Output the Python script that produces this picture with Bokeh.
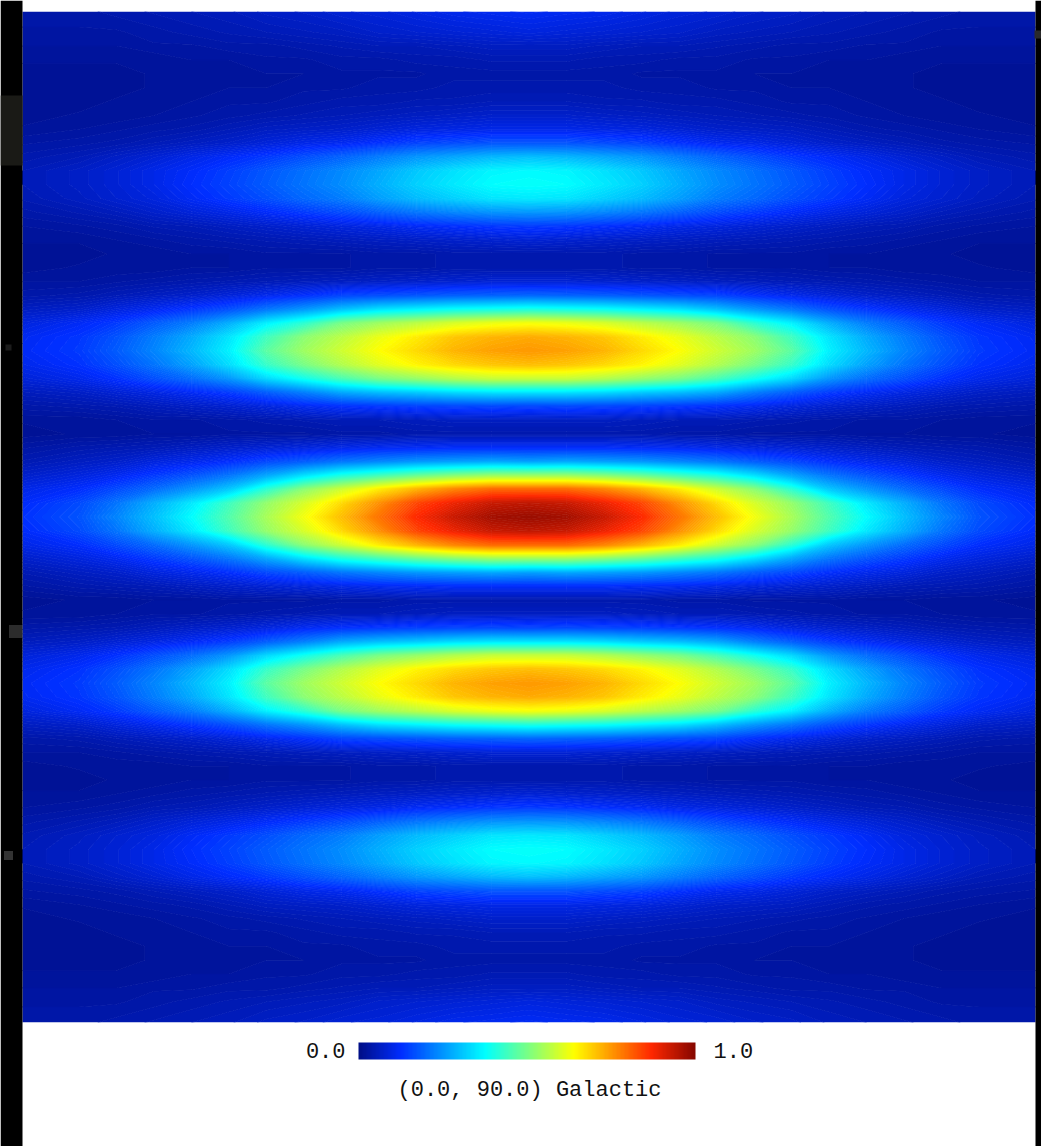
from bokeh.plotting import figure
from bokeh.models import LinearColorMapper, Range1d
from bokeh.core.properties import value
from bokeh.embed import file_html
from bokeh.resources import INLINE
import numpy as np

# Values: one quadrant, rows going outward from the centre row,
# columns going outward from the centre column.
col_offsets = [0, 37.5, 75, 112.5, 150, 187.5, 225, 262.5, 300, 337.5, 375, 412.5, 450, 506.5]
row_offsets = [0, 13.85, 27.7, 41.5, 55.4, 69.2, 83, 96.9, 110.8, 124.6, 138.5, 152.3, 166.2,
               180, 193.9, 207.7, 221.6, 235.4, 249.3, 263.1, 277, 290.8, 304.7, 318.5, 332.4,
               346.2, 360, 373.9, 387.8, 401.6, 415.5, 429.3, 443.2, 457, 470.9, 484.7, 505.5]
quadrant = [
 [.98,.97,.93,.87,.79,.71,.63,.55,.46,.375,.30,.23,.17,.13],
 [.94,.93,.89,.84,.76,.68,.60,.53,.44,.35,.28,.21,.16,.12],
 [.80,.80,.77,.72,.66,.59,.52,.42,.31,.25,.20,.16,.125,.10],
 [.53,.53,.51,.48,.44,.40,.34,.27,.21,.17,.14,.11,.09,.07],
 [.26,.27,.26,.25,.23,.21,.18,.155,.125,.105,.09,.07,.06,.045],
 [.12,.12,.12,.115,.11,.10,.09,.08,.07,.06,.05,.045,.04,.03],
 [.04,.04,.04,.04,.035,.035,.03,.03,.03,.025,.025,.02,.02,.015],
 [.06,.06,.06,.055,.05,.05,.045,.04,.035,.03,.03,.025,.02,.02],
 [.15,.155,.15,.145,.135,.125,.11,.09,.075,.065,.055,.045,.04,.035],
 [.34,.34,.33,.31,.295,.27,.22,.18,.14,.115,.095,.08,.065,.055],
 [.58,.58,.56,.53,.50,.45,.39,.33,.25,.20,.165,.13,.105,.085],
 [.71,.70,.68,.65,.61,.56,.50,.43,.335,.265,.21,.165,.13,.105],
 [.75,.74,.72,.68,.64,.59,.54,.47,.36,.29,.23,.18,.14,.115],
 [.73,.72,.70,.66,.62,.57,.52,.44,.345,.275,.22,.17,.135,.11],
 [.63,.62,.60,.57,.54,.50,.42,.36,.28,.22,.18,.14,.115,.09],
 [.40,.39,.38,.36,.34,.30,.25,.21,.165,.135,.11,.09,.07,.06],
 [.19,.185,.18,.17,.16,.15,.125,.105,.085,.07,.06,.05,.04,.035],
 [.08,.08,.075,.07,.065,.06,.055,.05,.045,.04,.035,.03,.025,.025],
 [.04,.04,.04,.035,.035,.03,.03,.03,.025,.025,.02,.02,.02,.015],
 [.04,.04,.04,.035,.035,.03,.03,.03,.025,.025,.02,.02,.015,.015],
 [.08,.075,.07,.065,.06,.055,.05,.045,.04,.035,.03,.025,.02,.02],
 [.14,.135,.125,.115,.10,.09,.08,.07,.06,.05,.045,.035,.03,.025],
 [.25,.245,.23,.21,.185,.16,.14,.12,.10,.085,.07,.055,.045,.035],
 [.35,.345,.32,.295,.26,.22,.195,.165,.14,.115,.09,.075,.06,.045],
 [.38,.375,.35,.32,.28,.24,.21,.18,.15,.125,.10,.08,.065,.05],
 [.37,.365,.34,.31,.27,.235,.205,.175,.145,.12,.10,.08,.065,.05],
 [.30,.29,.27,.25,.22,.19,.165,.14,.12,.10,.08,.065,.05,.04],
 [.17,.17,.16,.15,.13,.11,.10,.085,.07,.06,.05,.04,.035,.03],
 [.10,.10,.095,.09,.08,.07,.065,.06,.05,.04,.035,.03,.025,.02],
 [.07,.07,.065,.06,.055,.05,.045,.04,.035,.03,.025,.02,.02,.015],
 [.05,.05,.045,.045,.04,.04,.035,.03,.03,.025,.02,.02,.015,.015],
 [.04,.04,.04,.035,.035,.03,.03,.025,.025,.02,.02,.015,.015,.015],
 [.035,.035,.035,.03,.03,.03,.025,.025,.02,.02,.02,.015,.015,.015],
 [.045,.045,.04,.04,.035,.035,.03,.03,.025,.025,.02,.02,.02,.02],
 [.06,.06,.055,.05,.05,.045,.04,.035,.035,.03,.03,.025,.025,.025],
 [.09,.085,.08,.075,.07,.06,.055,.05,.045,.04,.035,.03,.03,.03],
 [.115,.11,.105,.095,.085,.08,.07,.065,.055,.05,.045,.04,.035,.035],
]
cbar_labels = ["0.0", "1.0"]
caption = "(0.0, 90.0) Galactic"
jet_stops = [0, .125, .375, .64, .87, 1]
jet_r = [0, 0, 0, 255, 255, 135]
jet_g = [15, 45, 255, 255, 40, 8]
jet_b = [135, 255, 255, 0, 0, 0]
grey_marks_x = [8, 15, 8, 1038]
grey_marks_y = [347, 631, 855, 34]
grey_marks_size = [6, 13, 9, 8]
grey_marks_colour = ["#1c1c1c", "#2c2c2c", "#333333", "#2a2a2a"]

def hexes(ts):
    return ["#%02x%02x%02x" % (int(np.interp(t, jet_stops, jet_r)),
                               int(np.interp(t, jet_stops, jet_g)),
                               int(np.interp(t, jet_stops, jet_b))) for t in ts]

lv = np.linspace(0, 1, 256)
palette = hexes(lv)
mapper = LinearColorMapper(palette=palette, low=0, high=1)

CX, CY = 528.5, 516.5
q = np.array(quadrant)
half = np.hstack([q[:, :0:-1], q])
grid = np.vstack([half[:0:-1], half])
xs = CX + np.concatenate([-np.array(col_offsets[:0:-1]), col_offsets])
ys = CY + np.concatenate([-np.array(row_offsets[:0:-1]), row_offsets])

W, H = 1041, 1146
p = figure(width=W, height=H, x_range=Range1d(0, W), y_range=Range1d(H, 0),
           output_backend="svg", toolbar_location=None, min_border=0,
           outline_line_color=None, background_fill_color="white",
           border_fill_color="white")
p.axis.visible = False
p.grid.visible = False

levels = np.linspace(0, 1, 161)
p.contour(xs, ys, grid, levels, fill_color=hexes((levels[:-1] + levels[1:]) / 2),
          line_color=hexes(levels), line_width=1)

# Frame drawn over the contour so its strokes end cleanly at the map's edge
p.quad(left=[0, 0], right=[W, W], top=[0, 1022], bottom=[11, H], color="white", line_color=None)
p.quad(left=[0, 1035], right=[22, W], top=[0, 0], bottom=[H, H], color="black", line_color=None)
p.quad(left=[0], right=[22], top=[95], bottom=[165], color="#1a1a16", line_color=None)
p.rect(x=grey_marks_x, y=grey_marks_y, width=grey_marks_size, height=grey_marks_size,
       color=grey_marks_colour, line_color=None)

p.image(image=[lv[None, :]], x=358, y=1042, dw=337, dh=17, color_mapper=mapper)

font = value("Liberation Mono")
p.text(x=[345, 713], y=[1050, 1050], text=cbar_labels, text_font=font, text_font_size="22px",
       text_color="#111111", text_align=["right", "left"], text_baseline="middle")
p.text(x=[529], y=[1090], text=[caption], text_font=font, text_font_size="22px",
       text_color="#111111", text_align="center", text_baseline="middle")

open("out.html", "w").write(file_html(p, INLINE))
